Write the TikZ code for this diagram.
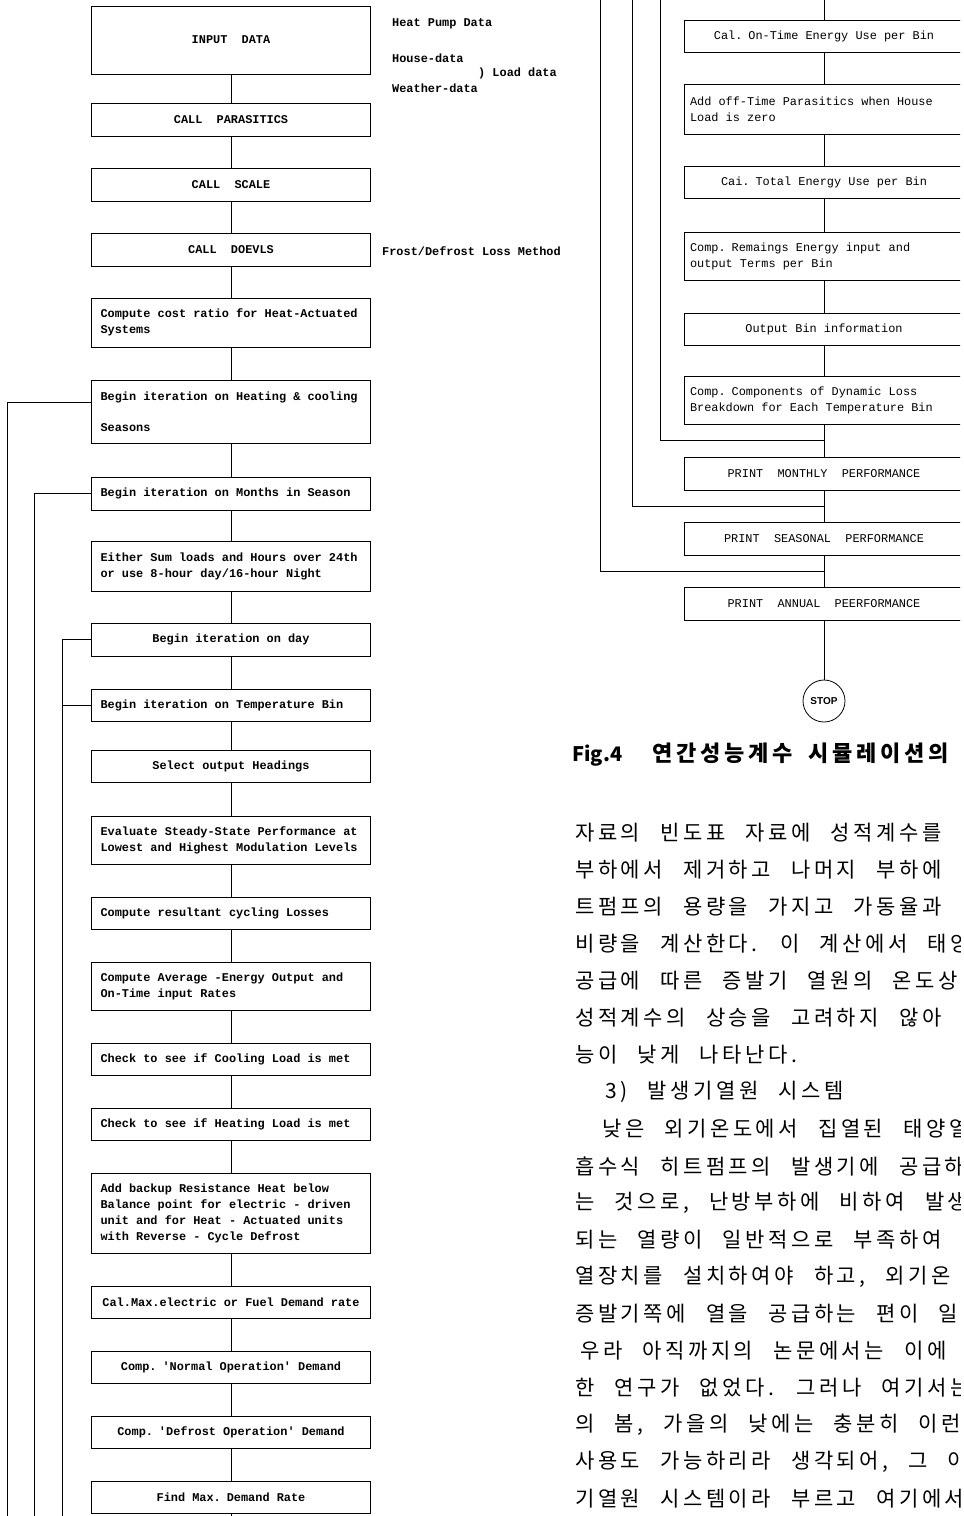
\documentclass[tikz,border=0pt]{standalone}
\usepackage{fontspec}
\setmonofont{Liberation Mono}
\newfontfamily\krfont{Noto Sans CJK KR}[LetterSpace=17]
\newfontfamily\krcapfont{Noto Sans CJK KR}
\newfontfamily\stopfont{Liberation Sans}
\newcommand\krbody{\krfont\fontsize{21}{21}\selectfont\spaceskip=20pt\relax}
\newcommand\boxfont{\fontsize{11.9}{16}\selectfont\ttfamily}
\newcommand\monospace{\spaceskip=0.6em\relax}
\usetikzlibrary{positioning}
\usetikzlibrary{calc}

\begin{document}
\begin{tikzpicture}[
    x=1pt, y=-1pt,
    lbox/.style={draw, line width=0.9pt, minimum width=279pt, text width=261pt, inner xsep=9pt, inner ysep=0pt, align=center, font=\boxfont\bfseries, execute at begin node=\monospace},
    rbox/.style={draw, line width=0.8pt, minimum width=280pt, text width=268pt, inner xsep=6pt, inner ysep=0pt, align=center, font=\boxfont, execute at begin node=\monospace},
    note/.style={anchor=west, inner sep=0pt, font=\boxfont\bfseries},
    kline/.style={anchor=west, inner sep=0pt, font=\krbody},
    link/.style={line width=0.8pt},
  ]
  \useasboundingbox (0,0) rectangle (964,1516);
  \clip (0,0) rectangle (960,1516);

  % Left column
  \node[lbox, minimum height=68pt] (input) at (231,40) {INPUT\ \ DATA};
  \node[lbox, minimum height=33pt] (parasitics) at (231,119.5) {CALL\ \ PARASITICS};
  \node[lbox, minimum height=33pt] (scale) at (231,184.5) {CALL\ \ SCALE};
  \node[lbox, minimum height=33pt] (doevls) at (231,249.5) {CALL\ \ DOEVLS};
  \node[lbox, align=left, minimum height=49pt] (costratio) at (231,322.5) {Compute cost ratio for Heat-Actuated\\Systems};
  \node[lbox, align=left, minimum height=63pt] (seasons) at (231,411.5) {Begin iteration on Heating \& cooling\\[15pt]Seasons};
  \node[lbox, align=left, minimum height=33pt] (months) at (231,493.5) {Begin iteration on Months in Season};
  \node[lbox, align=left, minimum height=50pt] (sumloads) at (231,566) {Either Sum loads and Hours over 24th\\or use 8-hour day/16-hour Night};
  \node[lbox, minimum height=33pt] (day) at (231,639.5) {Begin iteration on day};
  \node[lbox, align=left, minimum height=32pt] (tbin) at (231,705) {Begin iteration on Temperature Bin};
  \node[lbox, minimum height=32pt] (headings) at (231,766.5) {Select output Headings};
  \node[lbox, align=left, minimum height=48pt] (steady) at (231,840) {Evaluate Steady-State Performance at\\Lowest and Highest Modulation Levels};
  \node[lbox, align=left, minimum height=32pt] (cycling) at (231,913) {Compute resultant cycling Losses};
  \node[lbox, align=left, minimum height=48pt] (average) at (231,986) {Compute Average -Energy Output and\\On-Time input Rates};
  \node[lbox, align=left, minimum height=32pt] (coolchk) at (231,1059) {Check to see if Cooling Load is met};
  \node[lbox, align=left, minimum height=32pt] (heatchk) at (231,1124) {Check to see if Heating Load is met};
  \node[lbox, align=left, minimum height=80pt] (backup) at (231,1213) {Add backup Resistance Heat below\\Balance point for electric - driven\\unit and for Heat - Actuated units\\with Reverse - Cycle Defrost};
  \node[lbox, minimum height=32pt] (maxrate) at (231,1302.5) {Cal.Max.electric or Fuel Demand rate};
  \node[lbox, minimum height=32pt] (normal) at (231,1367.5) {Comp. 'Normal Operation' Demand};
  \node[lbox, minimum height=32pt] (defrost) at (231,1432) {Comp. 'Defrost Operation' Demand};
  \node[lbox, minimum height=32pt] (findmax) at (231,1497) {Find Max. Demand Rate};

  % Notes beside the input boxes
  \node[note] (hpdata) at (392,24) {Heat Pump Data};
  \node[note] (housedata) at (392,58) {House-data};
  \node[note] (loaddata) at (478,73) {) Load data};
  \node[note] (weatherdata) at (392,88) {Weather-data};
  \node[note] (frostnote) at (382,251) {Frost/Defrost Loss Method};

  % Right column
  \node[rbox, minimum height=32pt] (ontime) at (824,36) {Cal. On-Time Energy Use per Bin};
  \node[rbox, align=left, minimum height=50pt] (offtime) at (824,109) {Add off-Time Parasitics when House\\Load is zero};
  \node[rbox, minimum height=32pt] (total) at (824,182) {Cai. Total Energy Use per Bin};
  \node[rbox, align=left, minimum height=48pt] (remain) at (824,256) {Comp. Remaings Energy input and\\output Terms per Bin};
  \node[rbox, minimum height=32pt] (binout) at (824,329) {Output Bin information};
  \node[rbox, align=left, minimum height=48pt] (dynloss) at (824,400) {Comp. Components of Dynamic Loss\\Breakdown for Each Temperature Bin};
  \node[rbox, minimum height=33pt] (monthly) at (824,473.5) {PRINT\ \ MONTHLY\ \ PERFORMANCE};
  \node[rbox, minimum height=33pt] (seasonal) at (824,538.5) {PRINT\ \ SEASONAL\ \ PERFORMANCE};
  \node[rbox, minimum height=33pt] (annual) at (824,603.5) {PRINT\ \ ANNUAL\ \ PEERFORMANCE};
  \node[circle, draw, line width=0.8pt, minimum size=42pt, inner sep=0pt, font=\stopfont\bfseries\fontsize{10}{10}\selectfont] (stop) at (824,701) {STOP};

  % Ends of the lines at the page edges
  \coordinate (leftend) at (231,1516);
  \coordinate (righttop) at (824,0);
  \coordinate (seasonloop) at (7,1516);
  \coordinate (monthloop) at (34,1516);
  \coordinate (dayloop) at (62,1516);
  \coordinate (seasontop) at (600,0);
  \coordinate (monthtop) at (632,0);
  \coordinate (daytop) at (660,0);

  % Main flow, left
  \draw[link] (input) -- (parasitics);
  \draw[link] (parasitics) -- (scale);
  \draw[link] (scale) -- (doevls);
  \draw[link] (doevls) -- (costratio);
  \draw[link] (costratio) -- (seasons);
  \draw[link] (seasons) -- (months);
  \draw[link] (months) -- (sumloads);
  \draw[link] (sumloads) -- (day);
  \draw[link] (day) -- (tbin);
  \draw[link] (tbin) -- (headings);
  \draw[link] (headings) -- (steady);
  \draw[link] (steady) -- (cycling);
  \draw[link] (cycling) -- (average);
  \draw[link] (average) -- (coolchk);
  \draw[link] (coolchk) -- (heatchk);
  \draw[link] (heatchk) -- (backup);
  \draw[link] (backup) -- (maxrate);
  \draw[link] (maxrate) -- (normal);
  \draw[link] (normal) -- (defrost);
  \draw[link] (defrost) -- (findmax);
  \draw[link] (findmax) -- (leftend);

  % Main flow, right
  \draw[link] (righttop) -- (ontime);
  \draw[link] (ontime) -- (offtime);
  \draw[link] (offtime) -- (total);
  \draw[link] (total) -- (remain);
  \draw[link] (remain) -- (binout);
  \draw[link] (binout) -- (dynloss);
  \draw[link] (dynloss) -- (monthly);
  \draw[link] (monthly) -- (seasonal);
  \draw[link] (seasonal) -- (annual);
  \draw[link] (annual) -- (stop);

  % Loops
  \draw[link] ([yshift=9pt]seasons.west) -| (seasonloop);
  \draw[link] (months.west) -| (monthloop);
  \draw[link] (day.west) -| (dayloop);
  \draw[link] (tbin.west) -- (tbin.west -| dayloop);
  \draw[link] (daytop) |- ($(dynloss.south)!0.5!(monthly.north)$);
  \draw[link] (monthtop) |- ($(monthly.south)!0.5!(seasonal.north)$);
  \draw[link] (seasontop) |- ($(seasonal.south)!0.5!(annual.north)$);

  % Caption and body text
  \node[anchor=west, inner sep=0pt, font=\krfont\bfseries\fontsize{22}{22}\selectfont] (caption) at (572,755) {{\krcapfont\fontsize{20}{20}\selectfont Fig.4}\hspace{30pt}연간성능계수\hspace{16pt}시뮬레이션의};
  \node[kline] (k1) at (575,833) {자료의 빈도표 자료에 성적계수를};
  \node[kline] (k2) at (575,870) {부하에서 제거하고 나머지 부하에};
  \node[kline] (k3) at (575,907) {트펌프의 용량을 가지고 가동율과};
  \node[kline] (k4) at (575,944) {비량을 계산한다. 이 계산에서 태양};
  \node[kline] (k5) at (575,981) {공급에 따른 증발기 열원의 온도상};
  \node[kline] (k6) at (575,1018) {성적계수의 상승을 고려하지 않아};
  \node[kline] (k7) at (575,1055) {능이 낮게 나타난다.};
  \node[kline] (k8) at (605,1092) {3) 발생기열원 시스템};
  \node[kline] (k9) at (602,1129) {낮은 외기온도에서 집열된 태양열};
  \node[kline] (k10) at (575,1166) {흡수식 히트펌프의 발생기에 공급하};
  \node[kline] (k11) at (575,1203) {는 것으로, 난방부하에 비하여 발생};
  \node[kline] (k12) at (575,1240) {되는 열량이 일반적으로 부족하여};
  \node[kline] (k13) at (575,1277) {열장치를 설치하여야 하고, 외기온};
  \node[kline] (k14) at (575,1314) {증발기쪽에 열을 공급하는 편이 일};
  \node[kline] (k15) at (580,1351) {우라 아직까지의 논문에서는 이에};
  \node[kline] (k16) at (575,1388) {한 연구가 없었다. 그러나 여기서는};
  \node[kline] (k17) at (575,1425) {의 봄, 가을의 낮에는 충분히 이런};
  \node[kline] (k18) at (575,1462) {사용도 가능하리라 생각되어, 그 이};
  \node[kline] (k19) at (575,1499) {기열원 시스템이라 부르고 여기에서};

\end{tikzpicture}
\end{document}
